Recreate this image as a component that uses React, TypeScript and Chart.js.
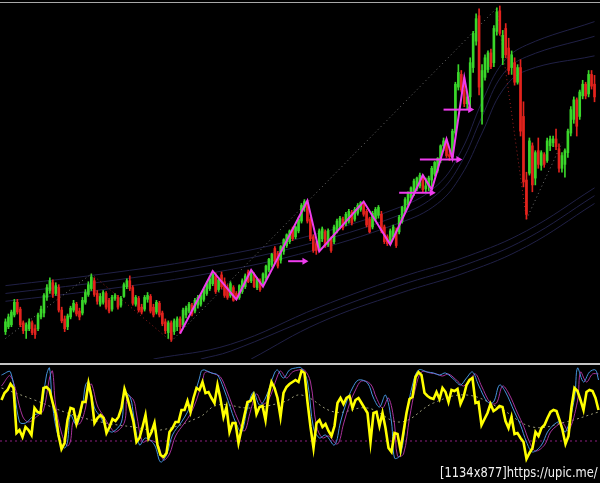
import React, { useEffect, useRef } from "react";
import { Chart, registerables } from "chart.js";
Chart.register(...registerables);

// ---- price candles (one per bar, oldest first) ----
const opens = [65,70,72,82,95,88,74,66,68,74,68,68,80,84,100,107,115,104,110,87,78,70,80,87,93,86,84,95,103,109,117,104,93,
95,104,97,88,99,100,92,101,111,117,110,93,99,90,88,98,101,90,85,94,84,75,64,74,65,70,78,72,82,86,92,86,92,
93,98,104,109,114,122,108,123,116,110,102,110,104,100,106,111,126,117,123,110,117,113,120,128,133,150,145,138,147,153,157,170,162,168,
178,192,197,180,162,155,150,160,167,154,160,157,168,172,180,175,178,187,180,186,190,197,188,180,172,180,184,185,172,162,157,162,168,
167,178,188,195,202,206,211,214,223,211,214,220,226,230,240,255,260,246,244,268,315,328,312,298,305,335,362,388,290,325,333,350,340,372,393,
345,375,355,335,340,320,335,285,220,227,255,222,250,235,246,240,255,258,262,252,232,236,248,268,282,302,285,306,318,308,328,318];
const highs = [78,83,87,98,98,90,76,74,78,76,72,84,91,104,113,120,118,115,113,90,81,83,91,97,95,89,100,108,116,124,120,107,104,
107,106,99,102,104,102,101,115,119,122,112,102,101,93,102,105,103,93,97,96,86,78,76,76,78,80,80,89,91,95,94,99,102,
104,110,116,121,127,125,120,126,120,113,116,112,106,113,119,124,128,128,125,120,119,125,133,140,145,152,147,153,160,165,169,172,173,182,
196,200,199,182,164,157,170,172,169,170,162,174,180,183,182,187,190,189,192,196,198,198,190,182,188,192,194,188,174,164,170,174,171,
184,193,202,208,213,221,223,227,225,222,224,234,239,243,256,263,262,252,272,320,338,332,325,310,345,372,390,395,338,348,352,354,378,396,398,
373,380,365,352,345,338,343,300,228,263,258,250,263,250,248,263,265,265,272,257,248,252,272,295,305,304,312,322,320,332,332,327];
const lows = [62,68,70,80,83,70,63,58,66,62,58,66,78,80,97,104,100,102,85,74,65,67,78,85,81,77,82,93,101,107,101,93,91,
93,88,84,86,97,88,90,100,109,107,92,91,85,83,86,95,84,80,83,80,71,63,58,55,62,66,63,70,79,84,81,84,89,
91,96,102,107,112,104,106,109,100,98,100,96,98,98,104,109,115,115,110,108,106,111,118,126,131,135,130,135,144,151,155,158,160,166,
176,188,176,158,146,144,147,157,151,152,146,155,166,170,169,173,176,174,178,184,188,183,172,166,170,178,181,166,155,153,154,160,151,
165,176,186,193,200,204,209,212,208,208,209,210,224,228,238,250,243,240,242,266,312,310,295,292,292,330,358,307,277,322,330,334,336,368,368,
338,345,328,328,317,318,265,213,180,225,208,215,232,230,233,238,250,254,251,228,228,223,243,265,278,265,282,303,303,305,313,300];
const closes = [75,80,85,95,85,72,66,72,75,64,62,82,88,102,110,117,103,112,87,76,68,81,89,94,83,80,97,105,113,121,103,96,101,
105,90,86,100,102,90,99,113,117,109,94,100,87,85,100,102,86,82,95,82,73,66,74,57,76,78,70,87,89,93,83,97,100,
102,108,114,119,124,106,118,111,102,100,114,97,101,112,117,122,116,127,111,119,108,124,132,139,144,137,132,152,159,164,168,160,172,180,
194,198,178,160,148,148,168,170,153,168,148,172,178,181,171,185,188,176,190,194,197,185,174,167,186,190,192,168,157,155,168,172,153,
182,192,200,207,212,219,222,225,210,214,222,232,238,242,255,260,245,244,270,318,330,312,298,305,340,370,385,315,332,345,350,336,375,392,370,
368,348,332,348,320,335,270,218,185,260,215,248,236,248,236,260,262,262,254,232,245,250,270,292,302,275,310,318,306,328,316,305];

// ---- swing lines on the price panel: [bar index, price] ----
const zigzag = [[59,63],[70,127],[78,98],[83,128],[87,111],[102,199],[106,147],[121,198],[130,154],[141,225],[144,210],[149,262],[151,242],[155,325],[157,292]];
const levelArrows = [
  [[95.5,137],[101,137]],
  [[133,207],[144,207]],
  [[140,241],[153,241]],
  [[148,292],[157,292]],
];
const swingUp = [[[0,58],[29,124]],[[56,55],[166,396]],[[176,180],[188,258]]];
const swingDown = [[[29,124],[56,55]],[[166,396],[176,180]]];

// ---- channel bands: [bar index, price] ----
const upperBand1 = [[0,112],[33,124],[66,139],[99,160],[133,192],[146,215],[154,250],[161,300],[168,340],[176,358],[199,382]];
const upperBand2 = [[0,104],[33,116],[66,131],[99,152],[133,184],[146,206],[154,238],[161,285],[168,328],[176,346],[199,367]];
const upperBand3 = [[0,96],[33,108],[66,123],[99,144],[133,176],[146,196],[154,225],[161,268],[168,312],[176,332],[199,347]];
const lowerBand1 = [[50,37],[76,52],[106,90],[133,120],[156,142],[176,168],[199,212]];
const lowerBand2 = [[66,37],[76,45],[106,82],[133,112],[156,134],[176,160],[199,204]];
const lowerBand3 = [[83,37],[106,74],[133,104],[156,126],[176,152],[199,196]];

// ---- oscillator panel ----
const oscMain = [66,73,76,82,78,33,36,29,39,36,31,58,54,53,78,79,76,64,53,31,17,23,46,58,57,42,51,64,64,83,
69,43,48,51,48,33,39,47,45,49,58,77,68,56,44,24,28,39,51,28,34,43,21,11,9,13,34,38,44,44,
56,56,65,54,68,78,76,84,73,74,68,63,81,67,49,59,34,43,43,23,37,51,64,65,71,52,59,60,46,71,
84,78,68,49,73,79,82,84,86,84,
95,93,64,39,18,43,46,39,42,35,30,40,63,68,62,68,70,58,66,68,63,58,53,24,53,54,40,53,38,18,
14,33,32,16,34,53,67,69,89,94,91,73,70,68,67,74,67,78,74,64,76,75,77,62,69,81,86,88,63,64,
41,47,53,62,55,57,60,59,45,38,49,32,33,28,24,7,13,18,34,30,38,41,48,54,56,55,46,36,22,30,
59,78,75,66,56,74,76,75,68,56];
const oscFast = [[0,91],[3,94],[6,44],[8,43],[11,51],[13,54],[15,91],[16,98],[17,61],[19,28],[21,18],[22,24],[23,51],[25,41],[27,61],[28,81],[29,84],[31,58],[33,49],[35,38],[37,34],[40,44],[41,74],[43,68],[44,51],[46,21],[48,28],[51,21],[53,4],[55,11],[57,31],[60,44],[62,54],[64,68],[66,88],[67,96],[70,93],[72,91],[74,78],[76,61],[78,44],[80,34],[82,58],[84,74],[86,61],[88,68],[91,93],[92,96],[94,88],[96,96],[98,98],[100,98],[102,84],[104,38],[106,28],[108,31],[111,21],[113,44],[115,64],[117,78],[119,86],[122,83],[124,68],[126,59],[128,71],[130,44],[131,8],[133,11],[135,51],[137,81],[139,96],[142,94],[144,93],[146,91],[148,93],[151,86],[153,81],[155,88],[157,94],[159,81],[162,64],[164,64],[166,81],[168,74],[171,54],[173,41],[175,24],[177,14],[180,21],[182,34],[184,41],[186,44],[188,34],[191,68],[192,98],[194,84],[196,94],[198,96],[199,86]];
const oscSlow = [[0,80],[3,90],[7,50],[9,44],[12,50],[14,56],[16,88],[17,95],[18,62],[20,33],[22,20],[23,25],[24,45],[26,42],[28,58],[29,78],[30,82],[32,60],[34,50],[36,40],[38,34],[41,44],[42,70],[44,66],[45,52],[47,24],[49,26],[52,22],[54,6],[56,12],[58,30],[61,43],[63,52],[65,66],[67,85],[68,94],[71,92],[73,89],[75,76],[77,60],[79,45],[81,35],[83,55],[85,72],[87,62],[89,66],[92,90],[93,95],[95,88],[97,94],[99,96],[101,96],[103,84],[105,40],[107,28],[109,30],[112,22],[114,42],[116,62],[118,76],[120,85],[123,82],[125,68],[127,58],[129,68],[131,42],[132,10],[134,12],[136,48],[138,78],[140,94],[143,93],[145,92],[147,90],[149,92],[152,85],[154,80],[156,86],[158,92],[160,80],[163,63],[165,63],[167,80],[169,73],[172,53],[174,40],[176,24],[178,15],[181,21],[183,34],[185,40],[187,43],[189,35],[192,65],[193,94],[195,84],[197,92],[199,92]];
const oscTrend = [[0,78],[11,66],[22,53],[33,44],[44,39],[53,36],[66,49],[72,61],[83,58],[94,64],[100,71],[111,54],[122,58],[133,44],[144,63],[155,71],[166,58],[177,39],[188,44],[199,54]];
const oscLevel = 25;

const GREEN = "#3ad62a";
const RED = "#e3231d";
const MAGENTA = "#ee3cee";

const pts = (arr: number[][]) => arr.map(([x, y]) => ({ x, y }));

export default function App() {
  const topRef = useRef<HTMLCanvasElement>(null);
  const botRef = useRef<HTMLCanvasElement>(null);

  useEffect(() => {
    const n = opens.length;
    const idx = opens.map((_, i) => i);
    const colors = idx.map((i) => (closes[i] >= opens[i] ? GREEN : RED));
    const wick = idx.map((i) => ({ x: i, y: [lows[i], highs[i]] }));
    const body = idx.map((i) => ({ x: i, y: [Math.min(opens[i], closes[i]), Math.max(opens[i], closes[i])] }));

    const band = (arr: number[][]) => ({
      type: "line", data: pts(arr), borderColor: "#202046", borderWidth: 1, pointRadius: 0, tension: 0.4, order: 20,
    });
    const dotted = (arr: number[][], color: string) => ({
      type: "line", data: pts(arr), borderColor: color, borderWidth: 1, borderDash: [1, 3], pointRadius: 0, order: 15,
    });

    const topDatasets: any[] = [
      { type: "bar", data: wick, backgroundColor: colors, barThickness: 1, grouped: false, minBarLength: 1, order: 6 },
      { type: "bar", data: body, backgroundColor: colors, barThickness: 2, grouped: false, minBarLength: 1, order: 5 },
      band(upperBand1), band(upperBand2), band(upperBand3),
      band(lowerBand1), band(lowerBand2), band(lowerBand3),
      ...swingUp.map((s) => dotted(s, "#6e6e6e")),
      ...swingDown.map((s) => dotted(s, "#9a2020")),
      { type: "line", data: pts(zigzag), borderColor: MAGENTA, borderWidth: 2, pointRadius: 0, tension: 0, order: 1 },
      ...levelArrows.map((a) => ({
        type: "line", data: pts(a), borderColor: MAGENTA, borderWidth: 2, tension: 0, order: 1,
        pointRadius: [0, 4], pointStyle: "triangle", pointRotation: 90,
        pointBackgroundColor: MAGENTA, pointBorderColor: MAGENTA, pointBorderWidth: 0,
      })),
    ];

    const top = new Chart(topRef.current as HTMLCanvasElement, {
      type: "bar",
      data: { datasets: topDatasets },
      options: {
        animation: false, responsive: false, devicePixelRatio: 1, events: [],
        layout: { padding: 0 },
        plugins: { legend: { display: false }, tooltip: { enabled: false } },
        scales: {
          x: { type: "linear", min: -0.5, max: n - 0.5, display: false, offset: false },
          y: { type: "linear", min: 37, max: 400, display: false },
        },
      } as any,
    });

    const bot = new Chart(botRef.current as HTMLCanvasElement, {
      type: "line",
      data: {
        datasets: [
          { data: oscMain.map((v, i) => ({ x: i, y: v })), borderColor: "#ffff00", borderWidth: 2.6, pointRadius: 0, tension: 0, order: 1 },
          { data: pts(oscFast), borderColor: "#4593dc", borderWidth: 1, pointRadius: 0, tension: 0.35, order: 3 },
          { data: pts(oscSlow), borderColor: "#a8329a", borderWidth: 1, pointRadius: 0, tension: 0.35, order: 4 },
          { data: pts(oscTrend), borderColor: "#9a9a78", borderWidth: 1, borderDash: [2, 3], pointRadius: 0, tension: 0.4, order: 5 },
          { data: [{ x: -0.5, y: oscLevel }, { x: n - 0.5, y: oscLevel }], borderColor: "#8c1f80", borderWidth: 1, borderDash: [2, 3], pointRadius: 0, order: 6 },
        ],
      } as any,
      options: {
        animation: false, responsive: false, devicePixelRatio: 1, events: [],
        layout: { padding: 0 },
        plugins: { legend: { display: false }, tooltip: { enabled: false } },
        scales: {
          x: { type: "linear", min: -0.5, max: n - 0.5, display: false },
          y: { type: "linear", min: -17, max: 101, display: false },
        },
      } as any,
    });

    return () => { top.destroy(); bot.destroy(); };
  }, []);

  return (
    <div style={{ position: "fixed", left: 0, top: 0, width: 600, height: 483, background: "#000", overflow: "hidden" }}>
      <canvas ref={topRef} width={600} height={363} style={{ position: "absolute", left: 0, top: 0, display: "block" }} />
      <div style={{ position: "absolute", left: 0, top: 2, width: 600, height: 1, background: "#a8a8a8" }} />
      <div style={{ position: "absolute", left: 0, top: 363, width: 600, height: 2, background: "#c4c4c4" }} />
      <canvas ref={botRef} width={600} height={118} style={{ position: "absolute", left: 0, top: 365, display: "block" }} />
      <div style={{ position: "absolute", left: 440, top: 464, color: "#f2f2f2", fontFamily: '"DejaVu Sans Condensed", "DejaVu Sans", sans-serif', fontSize: 14, whiteSpace: "nowrap", transform: "scaleX(0.91)", transformOrigin: "left top", textShadow: "0 0 2px #000" }}>
        [1134x877]https://upic.me/
      </div>
    </div>
  );
}
